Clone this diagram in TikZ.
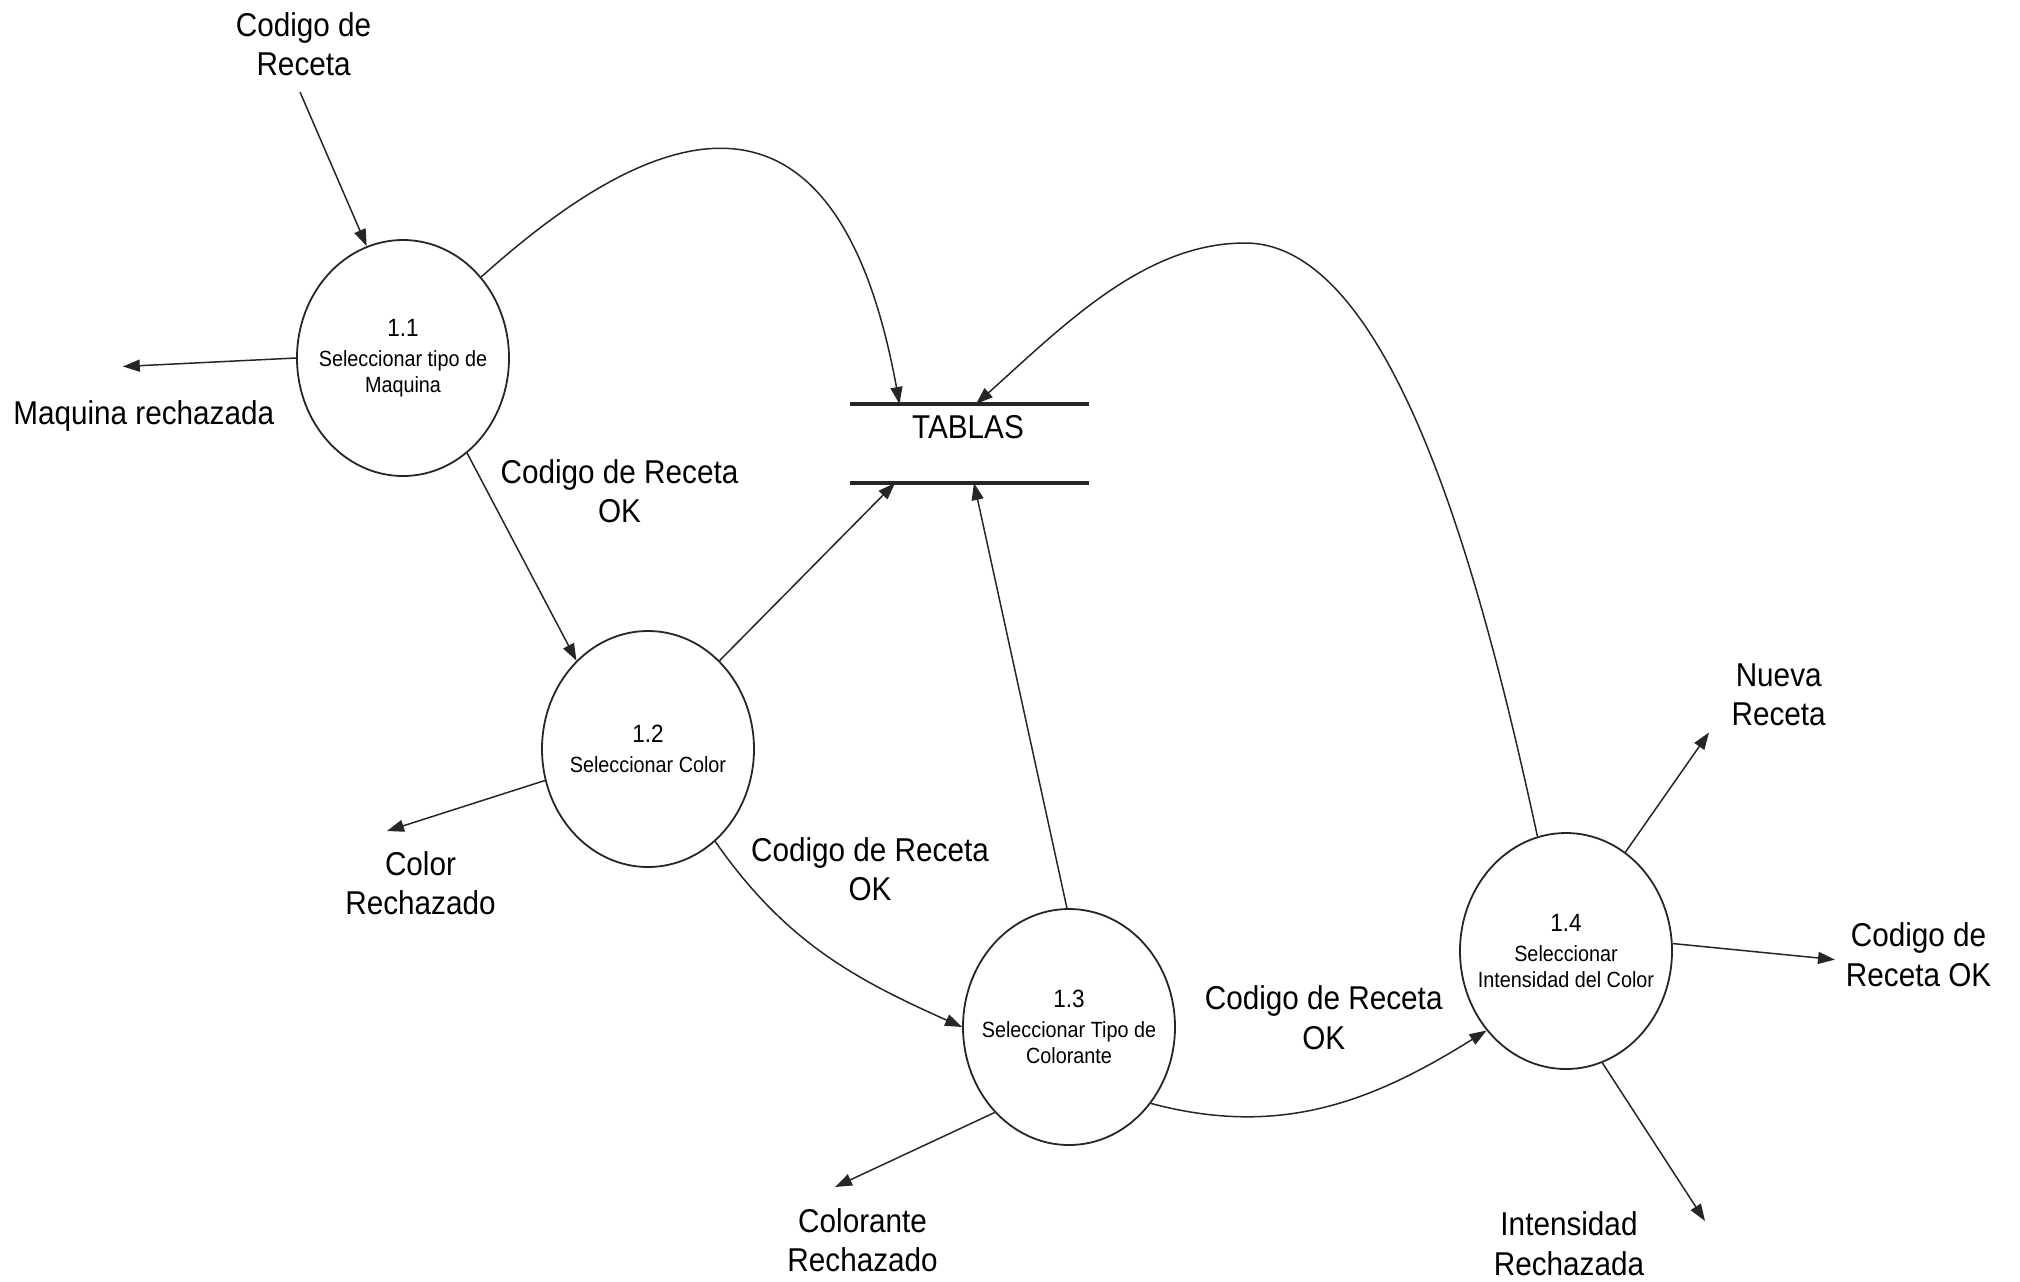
\documentclass[tikz,border=0pt]{standalone}
\usepackage{fontspec}
\setmainfont{Liberation Sans}[FakeStretch=0.9]
\usetikzlibrary{arrows.meta,shapes.geometric}
\begin{document}
\begin{tikzpicture}[x=0.5pt,y=-0.5pt,
  proc/.style={draw=black!85, line width=0.9pt, ellipse, minimum width=106pt,
    minimum height=118pt, inner xsep=-12pt, inner ysep=0pt, align=center,
    font=\fontsize{11}{13}\selectfont},
  lbl/.style={align=center, inner sep=0pt, font=\fontsize{16.5}{19.75}\selectfont},
  flow/.style={draw=black!85, line width=0.75pt, -{Triangle[length=8.5pt,width=6pt]}},
  store/.style={draw=black!85, line width=2pt}]
\useasboundingbox (0,0) rectangle (2020,1281);

% processes
\node[proc] (c11) at (403,358) {{\fontsize{12.5}{15}\selectfont 1.1}\\[2pt]Seleccionar tipo de\\Maquina};
\node[proc] (c12) at (648,749) {{\fontsize{12.5}{15}\selectfont 1.2}\\[2pt]Seleccionar Color};
\node[proc] (c13) at (1069,1027) {{\fontsize{12.5}{15}\selectfont 1.3}\\[2pt]Seleccionar Tipo de\\Colorante};
\node[proc] (c14) at (1566,951) {{\fontsize{12.5}{15}\selectfont 1.4}\\[2pt]Seleccionar\\Intensidad del Color};

% data store
\node[lbl] (tab) at (968,427) {TABLAS};
\coordinate (tabNW) at (850,404);
\coordinate (tabNE) at (1089,404);
\coordinate (tabSW) at (850,483);
\coordinate (tabSE) at (1089,483);
\draw[store] (tabNW) -- (tabNE);
\draw[store] (tabSW) -- (tabSE);
\coordinate (tin1) at (899.5,404);
\coordinate (tin2) at (976,404);
\coordinate (tin3) at (895,483);
\coordinate (tin4) at (974,483);

% flow labels
\node[lbl] (inlab) at (303.6,44) {Codigo de\\Receta};
\node[lbl] (maqlab) at (143.75,415.6) {Maquina rechazada};
\node[lbl] (ok12lab) at (619.5,491) {Codigo de Receta\\OK};
\node[lbl] (colrlab) at (420.5,883) {Color\\Rechazado};
\node[lbl] (ok23lab) at (870,869) {Codigo de Receta\\OK};
\node[lbl] (colrnlab) at (862.6,1240) {Colorante\\Rechazado};
\node[lbl] (ok34lab) at (1323.7,1017.5) {Codigo de Receta\\OK};
\node[lbl] (nuevalab) at (1778.7,695) {Nueva\\Receta};
\node[lbl] (okoutlab) at (1918.6,954.5) {Codigo de\\Receta OK};
\node[lbl] (intlab) at (1569,1243.5) {Intensidad\\Rechazada};

% free ends of the flows
\coordinate (srcin) at (300,92);
\coordinate (maqout) at (122.8,366.5);
\coordinate (colrout) at (387,831);
\coordinate (colrnout) at (835,1187);
\coordinate (nuevaout) at (1709,732.5);
\coordinate (okout) at (1835,959.6);
\coordinate (intout) at (1705,1221);
\coordinate (pk) at (1245,243);

% flows
\draw[flow] (srcin) -- (c11.108);
\draw[flow] (c11.180) -- (maqout);
\draw[flow] (c11.-56.5) -- (c12.129);
\draw[flow] (c11.46) .. controls (620,152) and (830,22) .. (tin1);
\draw[flow] (c12.51) -- (tin3);
\draw[flow] (c13.91) -- (tin4);
\draw[flow] (c14.104) .. controls (1484,590) and (1395,243) .. (pk)
   .. controls (1145,243) and (1065,324) .. (tin2);
\draw[flow] (c12.-54) to[out=-55,in=156] (c13.180);
\draw[flow] (c12.-163.5) -- (colrout);
\draw[flow] (c13.-131) -- (colrnout);
\draw[flow] (c13.-43.5) to[out=-15,in=-148] (c14.-135);
\draw[flow] (c14.59.6) -- (nuevaout);
\draw[flow] (c14.4.3) -- (okout);
\draw[flow] (c14.-72) -- (intout);
\end{tikzpicture}
\end{document}
